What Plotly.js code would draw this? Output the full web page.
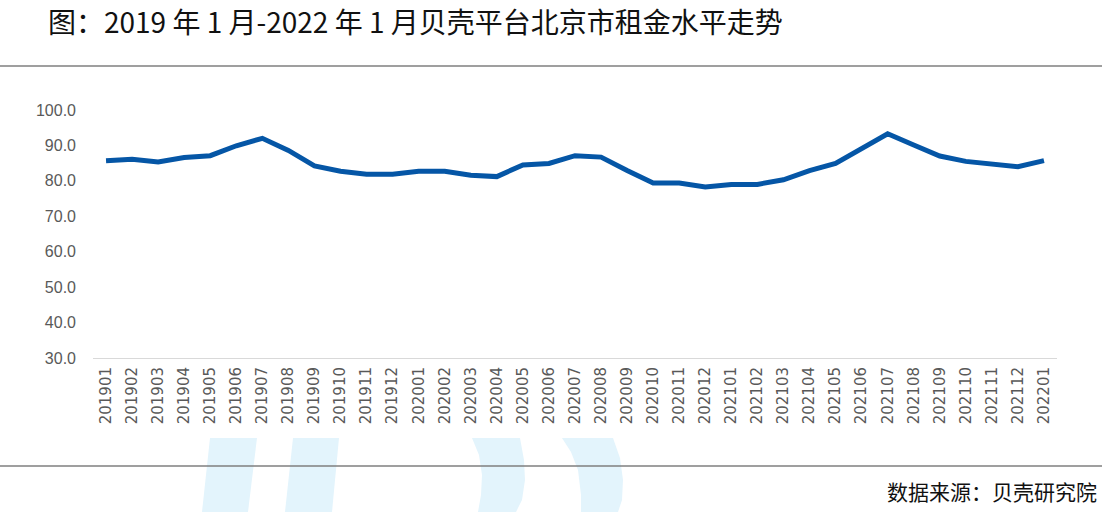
<!DOCTYPE html>
<html>
<head>
<meta charset="utf-8">
<script src="https://cdn.plot.ly/plotly-3.0.1.min.js"></script>
<style>
html,body{margin:0;padding:0;background:#fff;}
#chart{width:1109px;height:512px;}
</style>
</head>
<body>
<div id="chart"></div>
<script>
// ---- data ----
const months = [
  "201901","201902","201903","201904","201905","201906","201907","201908","201909","201910","201911","201912",
  "202001","202002","202003","202004","202005","202006","202007","202008","202009","202010","202011","202012",
  "202101","202102","202103","202104","202105","202106","202107","202108","202109","202110","202111","202112",
  "202201"
];
const rentIndex = [
  85.7, 86.1, 85.3, 86.6, 87.1, 89.9, 92.0, 88.6, 84.2, 82.7, 81.9, 81.9,
  82.7, 82.7, 81.6, 81.2, 84.5, 84.9, 87.1, 86.7, 82.9, 79.4, 79.4, 78.3,
  79.0, 79.0, 80.3, 82.9, 84.9, 89.2, 93.3, 90.1, 87.0, 85.5, 84.9, 84.0,
  85.7
];
const yTicks = [30, 40, 50, 60, 70, 80, 90, 100];
const titleText = "图：2019 年 1 月-2022 年 1 月贝壳平台北京市租金水平走势";
const sourceText = "数据来源：贝壳研究院";

// ---- layout geometry ----
const W = 1109, H = 512;
const M = {l: 93, r: 52, t: 110, b: 154};
const pw = W - M.l - M.r, ph = H - M.t - M.b;
const px = x => (x - M.l) / pw;          // pixel -> paper x
const py = y => (H - M.b - y) / ph;      // pixel -> paper y

const wm = '#E3F4FC';
function poly(pts){
  return 'M' + pts.map(p => px(p[0]).toFixed(5) + ',' + py(p[1]).toFixed(5)).join(' L') + ' Z';
}
const shapes = [
  // watermark pieces
  {type:'path', xref:'paper', yref:'paper', layer:'below', fillcolor:wm, line:{width:0},
   path: poly([[210,438],[257,438],[248,512],[202,512]])},
  {type:'path', xref:'paper', yref:'paper', layer:'below', fillcolor:wm, line:{width:0},
   path: poly([[293,438],[339,438],[332,512],[285,512]])},
  {type:'path', xref:'paper', yref:'paper', layer:'below', fillcolor:wm, line:{width:0},
   path: poly([[472,438],[520,438],[524,460],[525,480],[522,500],[516,512],[478,512],[481,495],[482,475],[479,455]])},
  {type:'path', xref:'paper', yref:'paper', layer:'below', fillcolor:wm, line:{width:0},
   path: poly([[562,438],[613,438],[620,458],[623,480],[622,500],[618,512],[581,512],[581,495],[578,470],[571,452]])},
  // separator lines
  {type:'line', xref:'paper', yref:'paper', x0:px(0), x1:px(1102), y0:py(66), y1:py(66),
   line:{color:'#7f7f7f', width:1.3}},
  {type:'line', xref:'paper', yref:'paper', x0:px(0), x1:px(1102), y0:py(466), y1:py(466),
   line:{color:'#7f7f7f', width:1.3}}
];

const trace = {
  type:'scatter', mode:'lines',
  x: months, y: rentIndex,
  line:{color:'#0556A6', width:5},
  hoverinfo:'x+y'
};

const layout = {
  width: W, height: H,
  margin: M,
  paper_bgcolor:'#fff', plot_bgcolor:'rgba(0,0,0,0)',
  showlegend:false,
  title:{
    text: titleText, xref:'container', yref:'container',
    x: 48/W, xanchor:'left', y: 1 - 23/H, yanchor:'middle',
    font:{family:'"Noto Sans CJK SC", sans-serif', size:28, color:'#111'}
  },
  xaxis:{
    type:'category', range:[-0.5, months.length - 0.5],
    showline:true, linecolor:'#d9d9d9', linewidth:1,
    showgrid:false, zeroline:false, ticks:'',
    tickangle:-90, ticklabelstandoff:2,
    tickfont:{family:'"DejaVu Sans", sans-serif', size:15, color:'#595959'},
    fixedrange:true
  },
  yaxis:{
    range:[30, 100], tickvals:yTicks, tickformat:'.1f',
    showline:false, showgrid:false, zeroline:false, ticks:'',
    ticklabelstandoff:16,
    tickfont:{family:'"Liberation Sans", Arial, sans-serif', size:16, color:'#595959'},
    fixedrange:true
  },
  shapes: shapes,
  annotations:[
    {text: sourceText, xref:'paper', yref:'paper', x: px(1099), y: py(491),
     xanchor:'right', yanchor:'middle', showarrow:false,
     font:{family:'"Noto Sans CJK SC", sans-serif', size:21, color:'#111'}}
  ]
};

Plotly.newPlot('chart', [trace], layout, {displayModeBar:false, staticPlot:true});
</script>
</body>
</html>
